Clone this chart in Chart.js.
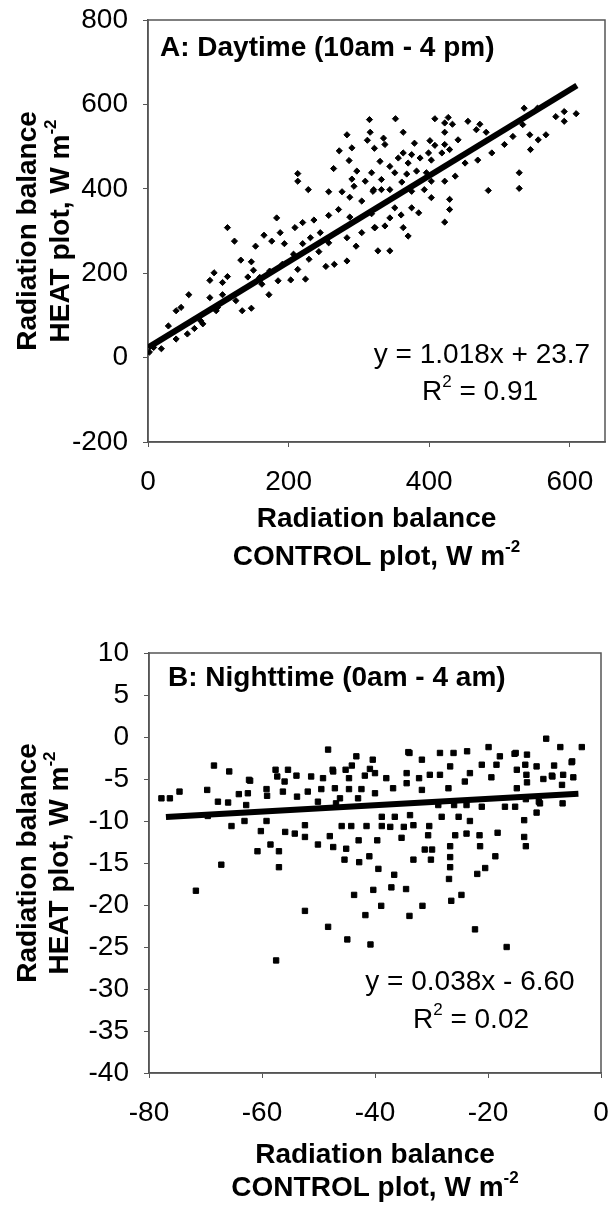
<!DOCTYPE html>
<html>
<head>
<meta charset="utf-8">
<script src="https://cdn.jsdelivr.net/npm/chart.js@4.4.1/dist/chart.umd.min.js"></script>
<style>
  html, body { margin: 0; padding: 0; background: #fff; }
  .panel { position: absolute; left: 0; width: 610px; }
  #panelA { top: 0; height: 600px; }
  #panelB { top: 605px; height: 605px; }
</style>
</head>
<body>
<div class="panel" id="panelA"><canvas id="chartA" width="610" height="600"></canvas></div>
<div class="panel" id="panelB"><canvas id="chartB" width="610" height="605"></canvas></div>
<script>
// --- Datos ---
// Panel A: día (10am - 4pm), W m-2
const diaControl = [
  315, 316, 283, 312, 272, 290, 322, 286, 264, 297, 213, 213, 228, 257, 290, 309, 293, 276, 287, 304,
  320, 271, 287, 257, 183, 113, 236, 220, 209, 188, 165, 123, 153, 176, 194, 231, 245, 257, 283, 296,
  304, 323, 132, 147, 150, 142, 94, 88, 113, 106, 58, 88, 106, 47, 40, 29, 66, 75, 97, 125,
  134, 147, 162, 173, 172, 185, 203, 213, 224, 229, 243, 253, 265, 283, 220, 207, 191, 159, 8, 19,
  40, 56, 78, 99, 2,
  352, 408, 422, 433, 455, 472, 427, 363, 335, 422, 467, 481, 379, 401, 441, 337, 408, 422, 363, 375,
  387, 399, 418, 429, 330, 344, 356, 370, 403, 318, 332, 351, 368, 382, 396, 321, 332, 344, 361, 375,
  393, 403, 422, 437, 451, 469, 489, 507, 519, 533, 535, 554, 580, 592, 592, 609, 543, 555, 566, 544,
  528, 528, 484, 429, 429, 422, 318, 322, 337, 344, 360, 363, 370, 327, 344, 385, 375, 403, 351
];
const diaHeat = [
  564, 534, 528, 515, 490, 497, 496, 467, 448, 442, 436, 418, 398, 393, 423, 418, 406, 393, 380, 371,
  394, 351, 333, 337, 331, 308, 326, 320, 308, 296, 290, 276, 264, 276, 270, 284, 296, 272, 284, 264,
  296, 308, 231, 227, 207, 191, 201, 183, 192, 178, 149, 142, 149, 119, 111, 75, 69, 87, 111, 135,
  111, 117, 174, 205, 149, 182, 184, 209, 186, 233, 251, 216, 221, 229, 270, 245, 221, 190, 24, 21,
  44, 56, 80, 119, 13,
  566, 566, 556, 553, 560, 553, 569, 534, 520, 534, 540, 534, 508, 514, 516, 505, 503, 505, 485, 481,
  473, 485, 485, 493, 465, 453, 473, 461, 468, 438, 422, 438, 435, 442, 438, 398, 398, 398, 416, 394,
  398, 418, 418, 430, 461, 468, 485, 505, 524, 552, 591, 591, 571, 560, 583, 578, 528, 516, 528, 493,
  438, 401, 396, 375, 351, 321, 341, 308, 312, 331, 338, 308, 288, 253, 253, 343, 355, 379, 355
];
const diaLineaX = [0, 610];
const diaLineaY = [23.7, 644.7];
const diaTicksX = [0, 200, 400, 600];
const diaTicksY = [-200, 0, 200, 400, 600, 800];

// Panel B: noche (0am - 4am), W m-2
const nocheControl = [
  -74.6, -76.3, -77.8, -68.5, -65.8, -69.7, -67.8, -66.0, -69.6, -64.1, -62.1, -62.5, -59.1, -57.6, -56.3,
  -55.4, -53.9, -53.8, -51.9, -49.5, -49.2, -47.4, -44.6, -43.3, -41.8, -44.6, -42.4, -50.1, -46.9, -65.4,
  -63.1, -59.2, -60.2, -58.5, -60.8, -57.0, -67.2, -57.0, -71.7, -55.9, -54.2, -52.4, -52.4, -50.1, -48.0,
  -47.4, -45.9, -44.2, -45.1, -45.4, -42.9, -42.8, -41.0, -41.5, -43.7, -40.3, -52.4, -48.3, -44.9, -41.7,
  -40.8, -57.5,
  -33.9, -28.5, -26.7, -32.2, -30.3, -28.5, -23.2, -40.0, -34.4, -36.8, -40.0, -18.5, -14.9, -13.2, -11.4,
  -8.3, -5.2, -8.7, -6.7, -27.0, -14.9, -10.8, -6.8, -13.3, -37.3, -34.9, -33.2, -30.4, -28.2, -25.2,
  -23.2, -25.8, -23.8, -21.5, -21.4, -18.3, -13.6, -13.6, -13.3, -11.4, -30.6, -35.3, -39.6, -31.2, -29.9,
  -26.7, -26.7, -33.2, -30.1, -26.7, -18.7, -21.9, -20.5, -26.9, -36.6, -39.4, -37.1, -34.5, -38.9, -31.6,
  -33.9, -26.5, -24.7, -22.3, -16.7, -15.3,
  -9.7, -7.2, -3.4, -5.1, -34.1, -26.1, -19.9, -15.1, -13.1, -48.3, -40.4, -47.5, -34.4, -8.6, -6.9,
  -11.0, -31.7, -57.3, -51.3, -45.2, -38.0, -62.3,
  -44.1, -40.9, -56.0, -59.2, -47.1, -43.0, -46.2, -62.8, -23.7, -31.7, -17.9, -21.1, -13.4, -4.9,
  -19.4, -10.2, -24.1, -13.1, -28.8, -26.0, -23.8, -21.1, -17.0, -15.2, -38.8, -36.5, -33.8, -38.8
];
const nocheHeat = [
  -6.5, -7.3, -7.3, -3.4, -4.1, -6.3, -7.7, -7.8, -9.4, -6.8, -5.2, -6.7, -7.0, -3.9, -6.5,
  -3.9, -4.6, -7.1, -6.5, -6.2, -4.9, -4.1, -4.9, -2.3, -4.6, -6.2, -6.2, -7.7, -7.9, -10.6,
  -10.0, -10.0, -11.2, -12.8, -13.6, -13.6, -15.2, -15.5, -18.3, -11.3, -11.5, -11.9, -10.5, -12.8, -11.8,
  -13.1, -10.6, -10.6, -13.3, -14.6, -12.3, -14.9, -14.2, -10.6, -18.8, -18.2, -20.7, -22.6, -24.1, -21.2,
  -24.7, -26.6,
  -1.9, -1.9, -3.5, -4.9, -4.5, -4.5, -4.3, -4.3, -5.5, -6.1, -6.7, -3.3, -3.9, -4.5, -3.5,
  -3.4, -3.0, -4.6, -4.5, -6.1, -6.1, -7.9, -7.9, -7.4, -10.7, -10.7, -10.5, -10.6, -9.5, -9.5,
  -10.0, -11.7, -11.5, -11.7, -13.0, -11.4, -9.9, -11.9, -13.0, -9.0, -11.7, -12.0, -12.3, -13.4, -13.4,
  -13.0, -14.3, -14.6, -14.6, -15.5, -14.2, -16.3, -15.6, -16.9, -16.4, -15.7, -17.9, -18.1, -20.1, -20.1,
  -21.3, -19.5, -18.8, -22.9, -25.0, -2.0,
  -0.2, -1.2, -1.2, -2.9, -1.8, -1.9, -1.2, -1.9, -2.1, -1.5, -2.7, -3.9, -4.3, -4.7, -5.7,
  -7.7, -6.3, -4.7, -4.7, -3.9, -4.9, -5.1,
  -3.4, -3.8, -5.3, -6.2, -6.1, -7.3, -7.3, -8.1, -1.7, -2.7, -2.3, -3.3, -3.3, -4.8,
  -4.8, -5.0, -5.3, -5.4, -8.1, -8.1, -8.1, -8.3, -8.3, -8.3, -9.5, -9.5, -9.3, -10.6
];
const nocheLineaX = [-77, -4];
const nocheLineaY = [-9.53, -6.75];
const nocheTicksX = [-80, -60, -40, -20, 0];
const nocheTicksY = [-40, -35, -30, -25, -20, -15, -10, -5, 0, 5, 10];

// --- Utilidades de texto ---
const FUENTE = '"Liberation Sans", Arial, sans-serif';

function textoConSuper(ctx, partes, x, y, tam, negrita, alinear) {
  const peso = negrita ? 'bold ' : '';
  const fBase = peso + tam + 'px ' + FUENTE;
  const fSup = peso + Math.round(tam * 0.6) + 'px ' + FUENTE;
  let ancho = 0;
  partes.forEach(p => { ctx.font = p.sup ? fSup : fBase; ancho += ctx.measureText(p.t).width; });
  let cx = alinear === 'left' ? x : x - ancho / 2;
  ctx.textAlign = 'left';
  ctx.textBaseline = 'middle';
  partes.forEach(p => {
    ctx.font = p.sup ? fSup : fBase;
    ctx.fillText(p.t, cx, p.sup ? y - tam * 0.36 : y);
    cx += ctx.measureText(p.t).width;
  });
}

// Plugin: marco, rótulo del panel, ecuación y títulos de ejes
const pluginRotulos = {
  id: 'rotulos',
  beforeDatasetsDraw(chart) {
    const a = chart.chartArea;
    const ctx = chart.ctx;
    ctx.save();
    ctx.strokeStyle = '#555';
    ctx.lineWidth = 1.5;
    ctx.strokeRect(a.left, a.top, a.right - a.left, a.bottom - a.top);
    ctx.restore();
  },
  afterDraw(chart, args, o) {
    const a = chart.chartArea;
    const ctx = chart.ctx;
    ctx.save();
    ctx.fillStyle = '#000';
    textoConSuper(ctx, [{ t: o.panel }], o.panelX, o.panelY, 28, true, 'left');
    textoConSuper(ctx, [{ t: o.ecuacion }], o.ecX, o.ecY, 28, false, 'center');
    textoConSuper(ctx, [{ t: 'R' }, { t: '2', sup: true }, { t: ' = ' + o.r2 }], o.r2X, o.r2Y, 28, false, 'center');

    const cx = (a.left + a.right) / 2;
    textoConSuper(ctx, [{ t: 'Radiation balance' }], cx, o.xTitY[0], 28, true, 'center');
    textoConSuper(ctx, [{ t: 'CONTROL plot, W m' }, { t: '-2', sup: true }], cx, o.xTitY[1], 28, true, 'center');

    const cy = (a.top + a.bottom) / 2;
    [[{ t: 'Radiation balance' }], [{ t: 'HEAT plot, W m' }, { t: '-2', sup: true }]].forEach((linea, i) => {
      ctx.save();
      ctx.translate(o.yTitX[i], cy);
      ctx.rotate(-Math.PI / 2);
      textoConSuper(ctx, linea, 0, 0, 28, true, 'center');
      ctx.restore();
    });
    ctx.restore();
  }
};

function ejeLineal(min, max, ticks, fit, esX) {
  return {
    type: 'linear',
    min: min,
    max: max,
    afterBuildTicks: s => { s.ticks = ticks.map(v => ({ value: v })); },
    afterFit: s => {
      if (esX) { s.height = fit; s.paddingLeft = 0; s.paddingRight = 0; }
      else { s.width = fit; s.paddingTop = 0; s.paddingBottom = 0; }
    },
    grid: { display: true, drawOnChartArea: false, drawTicks: true, tickLength: 5, color: '#555' },
    border: { display: true, color: '#555', width: 1.5 },
    ticks: {
      color: '#000',
      font: { family: FUENTE, size: 28 },
      padding: esX ? 18 : 15,
      maxRotation: 0,
      autoSkip: false
    }
  };
}

function crearPanel(id, puntosX, puntosY, lineaX, lineaY, estilo, radio, escalas, padding, rotulos) {
  const ctx = document.getElementById(id).getContext('2d');
  return new Chart(ctx, {
    type: 'scatter',
    data: {
      datasets: [
        {
          data: lineaX.map((x, i) => ({ x: x, y: lineaY[i] })),
          showLine: true,
          borderColor: '#000',
          borderWidth: 6,
          pointRadius: 0,
          order: 0
        },
        {
          data: puntosX.map((x, i) => ({ x: x, y: puntosY[i] })),
          pointStyle: estilo,
          pointRadius: radio,
          backgroundColor: '#000',
          borderColor: '#000',
          borderWidth: 1,
          order: 1
        }
      ]
    },
    options: {
      responsive: false,
      animation: false,
      devicePixelRatio: 1,
      layout: { padding: padding },
      plugins: { legend: { display: false }, tooltip: { enabled: false }, rotulos: rotulos },
      scales: escalas
    },
    plugins: [pluginRotulos]
  });
}

// --- Panel A ---
crearPanel('chartA', diaControl, diaHeat, diaLineaX, diaLineaY, 'rectRot', 3.1,
  { x: ejeLineal(0, 650, diaTicksX, 158, true), y: ejeLineal(-200, 800, diaTicksY, 148, false) },
  { top: 20, right: 1, left: 0, bottom: 0 },
  {
    panel: 'A: Daytime (10am - 4 pm)', panelX: 160, panelY: 48,
    ecuacion: 'y = 1.018x + 23.7', ecX: 482, ecY: 355,
    r2: '0.91', r2X: 480, r2Y: 392,
    xTitY: [519, 557], yTitX: [28, 61]
  });

// --- Panel B ---
crearPanel('chartB', nocheControl, nocheHeat, nocheLineaX, nocheLineaY, 'rect', 3.8,
  { x: ejeLineal(-80, 0, nocheTicksX, 137, true), y: ejeLineal(-40, 10, nocheTicksY, 149, false) },
  { top: 48, right: 9, left: 0, bottom: 0 },
  {
    panel: 'B: Nighttime (0am - 4 am)', panelX: 168, panelY: 73,
    ecuacion: 'y = 0.038x - 6.60', ecX: 470, ecY: 377,
    r2: '0.02', r2X: 471, r2Y: 415,
    xTitY: [550, 583], yTitX: [28, 60]
  });
</script>
</body>
</html>
